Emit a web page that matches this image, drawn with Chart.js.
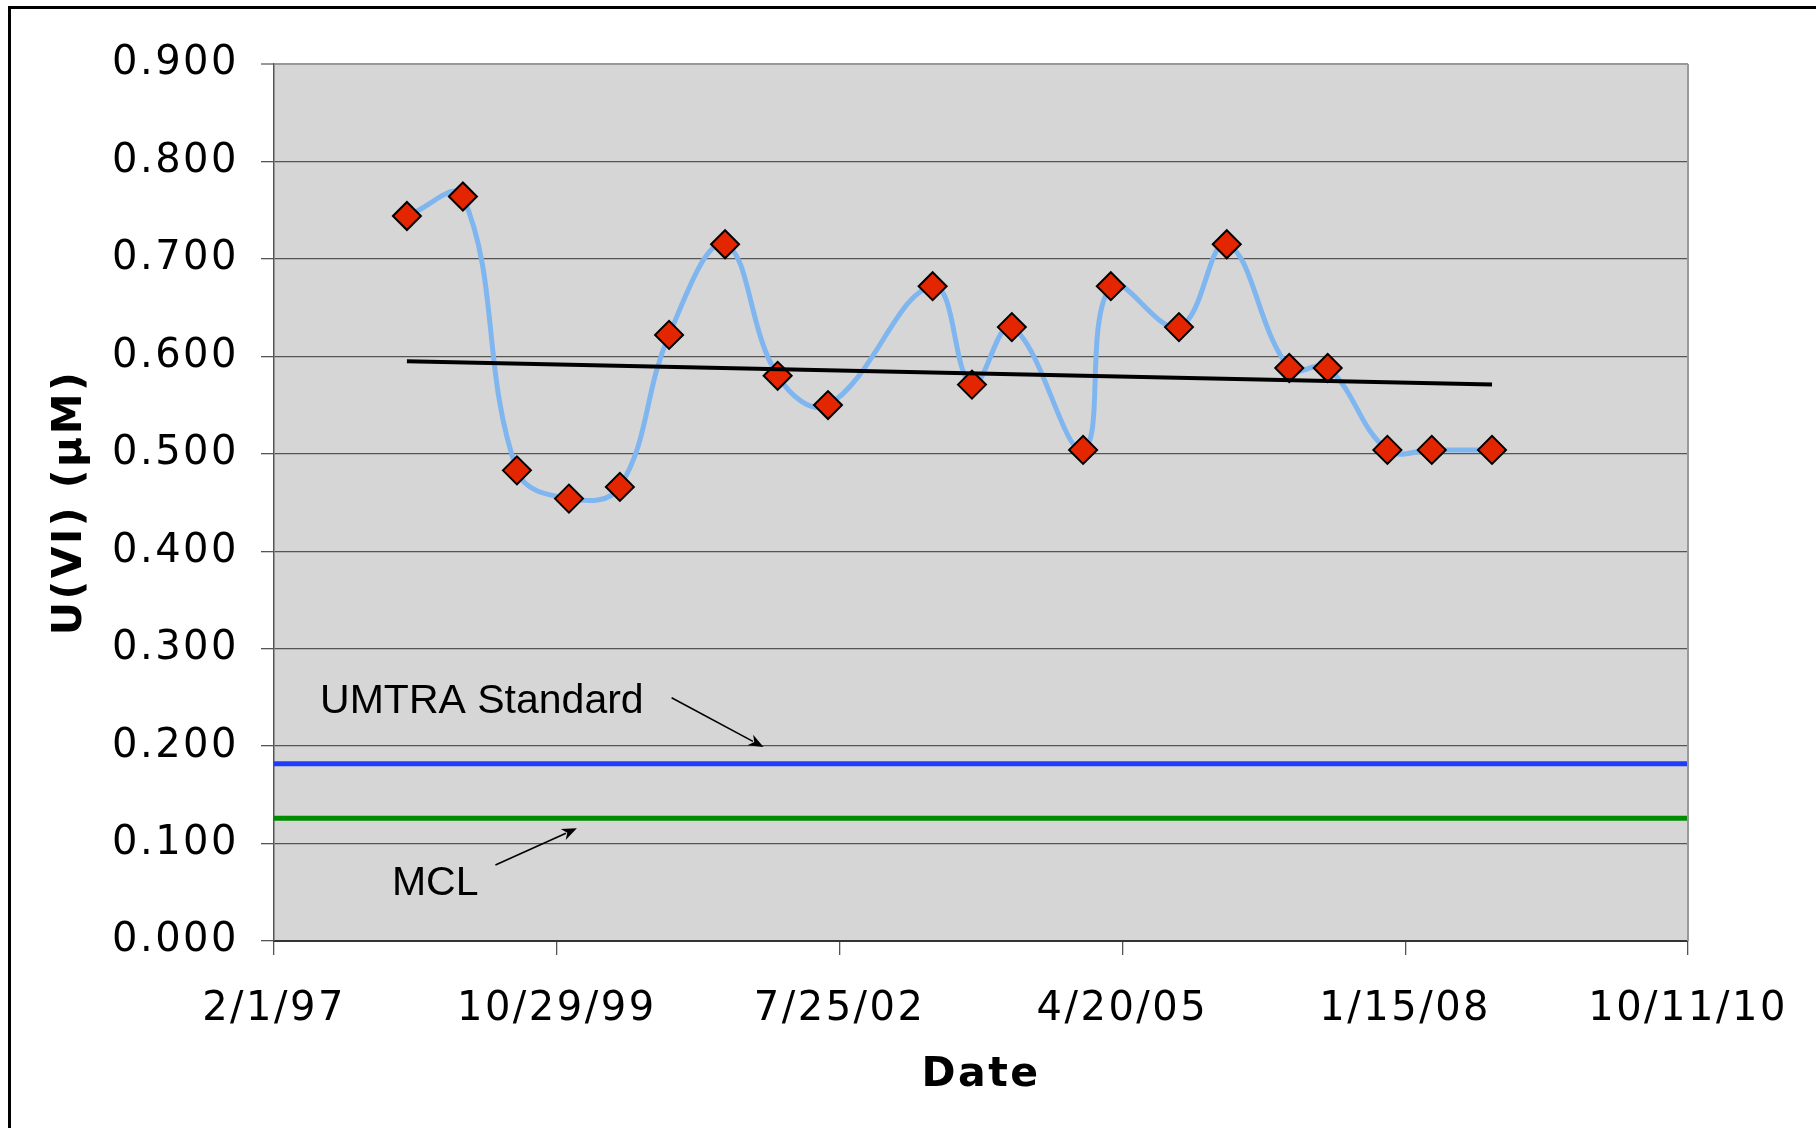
<!DOCTYPE html>
<html lang="en">
<head>
  <meta charset="UTF-8">
  <title>U(VI) over time</title>
  <script src="https://cdn.jsdelivr.net/npm/chart.js"></script>
  <style>
    html, body {
      margin: 0;
      padding: 0;
      background: #fff;
      overflow: hidden;
    }
    #chart-container {
      position: absolute;
      left: 0;
      top: 0;
      width: 1816px;
      height: 1128px;
    }
    #frame {
      position: absolute;
      left: 8px;
      top: 6px;
      width: 1900px;
      height: 1200px;
      border-top: 3px solid #000;
      border-left: 3px solid #000;
      pointer-events: none;
    }
  </style>
</head>
<body>

  <div id="chart-container">
    <canvas id="uChart"></canvas>
  </div>
  <div id="frame"></div>

  <script>
    // sampling dates (m/d/yy) and measured U(VI), µM
    const sampleDates = [
      "5/17/98", "12/1/98", "6/10/99", "12/11/99", "6/8/00", "11/29/00",
      "6/15/01", "12/18/01", "6/14/02", "6/19/03", "11/5/03", "3/25/04",
      "12/2/04", "3/10/05", "11/6/05", "4/24/06", "12/1/06", "4/16/07",
      "11/13/07", "4/18/08", "11/17/08"
    ];
    const uValues = [
      0.744, 0.764, 0.483, 0.454, 0.466, 0.622,
      0.715, 0.580, 0.550, 0.672, 0.571, 0.630,
      0.504, 0.672, 0.630, 0.715, 0.588, 0.588,
      0.504, 0.504, 0.504
    ];

    // linear trend line end points
    const trendDates = ["5/17/98", "11/17/08"];
    const trendValues = [0.595, 0.571];

    // regulatory limits, µM
    const umtraStandard = 0.182;
    const mclLimit = 0.126;

    const xTickLabels = ["2/1/97", "10/29/99", "7/25/02", "4/20/05", "1/15/08", "10/11/10"];

    function toDays(s) {
      const [m, d, y] = s.split("/").map(Number);
      const year = y < 50 ? 2000 + y : 1900 + y;
      return Date.UTC(year, m - 1, d) / 86400000;
    }

    const origin = toDays(xTickLabels[0]);
    const xMin = 0;
    const xMax = toDays(xTickLabels[xTickLabels.length - 1]) - origin;
    const tickDays = xTickLabels.map(t => toDays(t) - origin);

    const pts = (dates, vals) => dates.map((d, i) => ({ x: toDays(d) - origin, y: vals[i] }));
    const flat = v => [{ x: xMin, y: v }, { x: xMax, y: v }];

    // text notes with arrows, in axis units (days from first tick, µM)
    const notes = [
      { text: "UMTRA Standard", tx: 163, ty: 0.234, from: [1406, 0.2496], to: [1731, 0.199] },
      { text: "MCL", tx: 417, ty: 0.0476, from: [783, 0.078], to: [1071, 0.1156] }
    ];

    // the original axis text is loosely tracked
    const spacing = {
      id: "spacing",
      beforeLayout(chart) { chart.ctx.letterSpacing = "2.5px"; },
      beforeDraw(chart) { chart.ctx.letterSpacing = "2.5px"; }
    };

    const plotBackground = {
      id: "plotBackground",
      beforeDraw(chart) {
        const { ctx, chartArea: a } = chart;
        ctx.save();
        ctx.fillStyle = "#d6d6d6";
        ctx.fillRect(a.left, a.top, a.right - a.left, a.bottom - a.top);
        ctx.restore();
      },
      afterDraw(chart) {
        const { ctx, chartArea: a } = chart;
        ctx.save();
        ctx.strokeStyle = "#999";
        ctx.lineWidth = 2;
        ctx.beginPath();
        ctx.moveTo(a.right, a.top);
        ctx.lineTo(a.right, a.bottom);
        ctx.stroke();
        ctx.restore();
      }
    };

    const noteArrows = {
      id: "noteArrows",
      afterDatasetsDraw(chart) {
        const { ctx, scales } = chart;
        const px = v => scales.x.getPixelForValue(v);
        const py = v => scales.y.getPixelForValue(v);
        ctx.save();
        ctx.letterSpacing = "0px";
        ctx.fillStyle = "#000";
        ctx.strokeStyle = "#000";
        ctx.font = "41px 'Liberation Sans', Arial, sans-serif";
        ctx.textBaseline = "alphabetic";
        ctx.textAlign = "left";
        notes.forEach(n => {
          ctx.fillText(n.text, px(n.tx), py(n.ty));
          const x1 = px(n.from[0]), y1 = py(n.from[1]);
          const x2 = px(n.to[0]), y2 = py(n.to[1]);
          const ang = Math.atan2(y2 - y1, x2 - x1);
          const len = 15, half = 6;
          ctx.lineWidth = 1.6;
          ctx.beginPath();
          ctx.moveTo(x1, y1);
          ctx.lineTo(x2 - Math.cos(ang) * len * 0.8, y2 - Math.sin(ang) * len * 0.8);
          ctx.stroke();
          ctx.beginPath();
          ctx.moveTo(x2, y2);
          ctx.lineTo(x2 - Math.cos(ang) * len - Math.sin(ang) * half, y2 - Math.sin(ang) * len + Math.cos(ang) * half);
          ctx.lineTo(x2 - Math.cos(ang) * len * 0.7, y2 - Math.sin(ang) * len * 0.7);
          ctx.lineTo(x2 - Math.cos(ang) * len + Math.sin(ang) * half, y2 - Math.sin(ang) * len - Math.cos(ang) * half);
          ctx.closePath();
          ctx.fill();
        });
        ctx.restore();
      }
    };

    const tickFont = { family: "'DejaVu Sans', sans-serif", size: 40 };
    const titleFont = { family: "'DejaVu Sans', sans-serif", size: 41, weight: "bold" };

    const ctx = document.getElementById("uChart").getContext("2d");
    new Chart(ctx, {
      type: "line",
      data: {
        datasets: [
          {
            label: "Trend",
            data: pts(trendDates, trendValues),
            borderColor: "#000",
            borderWidth: 4,
            pointRadius: 0,
            order: 0
          },
          {
            label: "U(VI)",
            data: pts(sampleDates, uValues),
            borderColor: "rgb(128,182,240)",
            borderWidth: 5,
            tension: 0.4,
            pointStyle: "rectRot",
            pointRadius: 14,
            pointBackgroundColor: "rgb(228,38,0)",
            pointBorderColor: "#000",
            pointBorderWidth: 2,
            order: 1
          },
          {
            label: "UMTRA Standard",
            data: flat(umtraStandard),
            borderColor: "rgb(30,60,250)",
            borderWidth: 5,
            pointRadius: 0,
            order: 2
          },
          {
            label: "MCL",
            data: flat(mclLimit),
            borderColor: "rgb(0,140,0)",
            borderWidth: 5,
            pointRadius: 0,
            order: 3
          }
        ]
      },
      options: {
        responsive: true,
        maintainAspectRatio: false,
        animation: false,
        layout: { padding: { left: 42, top: 64, right: 128, bottom: 0 } },
        scales: {
          x: {
            type: "linear",
            min: xMin,
            max: xMax,
            afterFit: s => {
              s.height = 187;
              s.paddingLeft = 0;
              s.paddingRight = 0;
            },
            afterBuildTicks: s => { s.ticks = tickDays.map(v => ({ value: v })); },
            ticks: {
              callback: v => xTickLabels[tickDays.indexOf(v)],
              font: tickFont,
              color: "#000",
              padding: 31,
              maxRotation: 0,
              autoSkip: false
            },
            grid: { drawOnChartArea: false, drawTicks: true, tickLength: 14, color: "#555", lineWidth: 1.3 },
            border: { color: "#333", width: 2 },
            title: { display: true, text: "Date", font: titleFont, color: "#000", padding: { top: 0, bottom: 28 } }
          },
          y: {
            min: 0,
            max: 0.9,
            afterFit: s => {
              s.width = 232;
              s.paddingTop = 0;
              s.paddingBottom = 0;
            },
            ticks: {
              stepSize: 0.1,
              callback: v => v.toFixed(3),
              font: tickFont,
              color: "#000",
              padding: 22
            },
            grid: {
              color: c => (c.tick && c.tick.value > 0.89 ? "#999" : "#555"),
              lineWidth: c => (c.tick && c.tick.value > 0.89 ? 2 : 1.3),
              tickLength: 13
            },
            border: { color: "#555", width: 1.5 },
            title: { display: true, text: "U(VI) (µM)", font: titleFont, color: "#000", padding: { top: 4, bottom: 4 } }
          }
        },
        plugins: {
          legend: { display: false },
          tooltip: { enabled: false }
        }
      },
      plugins: [spacing, plotBackground, noteArrows]
    });
  </script>
</body>
</html>
